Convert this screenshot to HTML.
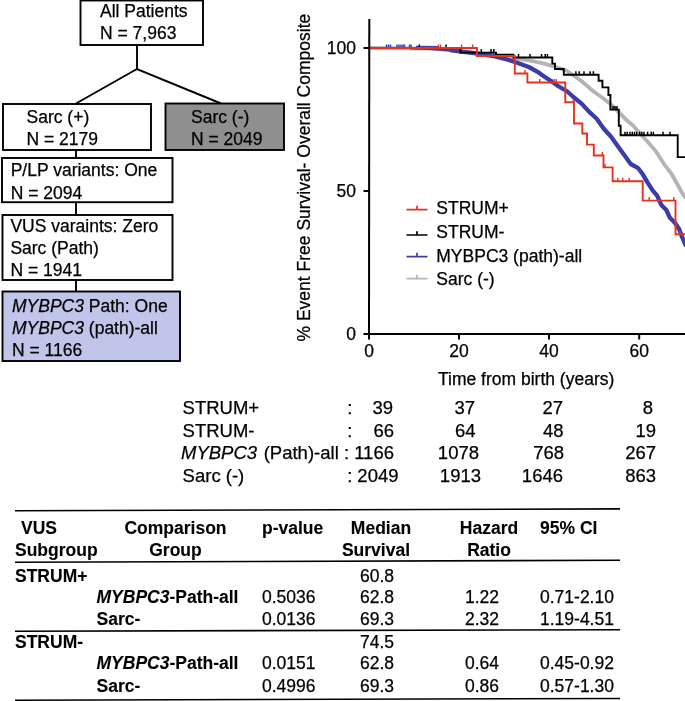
<!DOCTYPE html>
<html><head><meta charset="utf-8"><title>Figure</title>
<style>
html,body{margin:0;padding:0;background:#fff;}
svg{display:block;}
text{font-family:"Liberation Sans",Arial,Helvetica,sans-serif;fill:#000;}
.t{font-size:17.5px;stroke:#000;stroke-width:0.25px;}
.b{font-weight:bold;stroke-width:0.1px;}
.i{font-style:italic;}
</style></head><body>
<svg width="685" height="701" viewBox="0 0 685 701">
<rect width="685" height="701" fill="#fff"/>
<!-- flow chart -->
<g stroke="#000" stroke-width="1.9" fill="none">
<rect x="80.5" y="0.5" width="122.5" height="44.5" fill="#fff"/>
<line x1="137" y1="45" x2="137" y2="69"/>
<polyline points="76,103.5 137,69 221,103.5"/>
<rect x="3" y="104" width="148" height="46" fill="#fff"/>
<rect x="165.5" y="103.5" width="118.5" height="46.5" fill="#8f8f8f"/>
<line x1="76" y1="150" x2="76" y2="158"/>
<rect x="2" y="158" width="170.5" height="44.2" fill="#fff"/>
<line x1="76" y1="202" x2="76" y2="215"/>
<rect x="2.5" y="215" width="170" height="65" fill="#fff"/>
<line x1="76" y1="280" x2="76" y2="291"/>
<rect x="2.5" y="291.5" width="177.5" height="69.5" fill="#c1c5ea"/>
</g>
<g class="t">
<text x="100" y="17.4">All Patients</text>
<text x="100" y="39.4">N = 7,963</text>
<text x="26.5" y="122.5">Sarc (+)</text>
<text x="26.5" y="144.5">N = 2179</text>
<text x="191" y="122.5">Sarc (-)</text>
<text x="191" y="144.5">N = 2049</text>
<text x="10.7" y="176.2">P/LP variants: One</text>
<text x="10.7" y="198.5">N = 2094</text>
<text x="10.4" y="232">VUS varaints: Zero</text>
<text x="10.4" y="254">Sarc (Path)</text>
<text x="10.4" y="276">N = 1941</text>
<text x="12" y="311.5"><tspan class="i">MYBPC3</tspan> Path: One</text>
<text x="12" y="333.5"><tspan class="i">MYBPC3</tspan> (path)-all</text>
<text x="12" y="356">N = 1166</text>
</g>
<!-- chart -->
<g fill="none" stroke-linejoin="round">
<polyline points="369.0,48.0 430.0,48.6 450.0,50.0 472.0,52.6 493.8,55.2 507.0,57.0 515.7,58.5 528.8,60.4 543.4,63.4 559.5,68.2 566.8,70.8 581.4,81.0 593.6,91.5 603.8,98.8 611.1,104.6 618.4,111.9 625.7,119.2 633.0,125.5 640.3,133.8 647.6,141.8 654.9,150.0 657.8,154.3 664.2,164.3 671.3,173.5 677.0,183.5 682.0,192.8 686.0,198.5" stroke="#b4b4b4" stroke-width="3.8"/>
<polyline points="369.0,48.0 410.0,48.3" stroke="#3c3ca8" stroke-width="1.6"/>
<polyline points="410.0,48.3 430.0,48.8 450.0,50.2" stroke="#3c3ca8" stroke-width="2.6"/>
<polyline points="450.0,50.2 472.0,52.8 493.8,56.1 507.0,59.5 515.7,62.3 528.8,67.0 537.6,71.8 543.4,76.0 551.0,81.0 558.0,86.0 567.3,91.5 574.6,98.0 581.9,103.9 589.2,111.9 596.5,118.5 603.8,128.7 611.1,136.7 618.4,146.9 625.7,157.0 630.7,164.0 637.8,167.8 642.8,174.3 647.8,182.8 652.8,190.7 657.1,195.6 661.3,204.9 666.3,209.9 669.9,217.8 674.9,222.8 679.2,229.2 682.0,237.0 684.2,242.0 686.0,246.0" stroke="#3c3ca8" stroke-width="4.3"/>
<line x1="386.5" y1="48" x2="386.5" y2="44.5" stroke="#3c3ca8" stroke-width="1.5"/><line x1="388.5" y1="48" x2="388.5" y2="44.5" stroke="#3c3ca8" stroke-width="1.5"/><line x1="390.5" y1="48" x2="390.5" y2="44.5" stroke="#3c3ca8" stroke-width="1.5"/><line x1="397" y1="48" x2="397" y2="44.5" stroke="#3c3ca8" stroke-width="1.5"/><line x1="399" y1="48" x2="399" y2="44.5" stroke="#3c3ca8" stroke-width="1.5"/><line x1="401" y1="48" x2="401" y2="44.5" stroke="#3c3ca8" stroke-width="1.5"/><line x1="403" y1="48" x2="403" y2="44.5" stroke="#3c3ca8" stroke-width="1.5"/><line x1="404.5" y1="48" x2="404.5" y2="44.5" stroke="#3c3ca8" stroke-width="1.5"/><line x1="409.5" y1="48" x2="409.5" y2="44.5" stroke="#3c3ca8" stroke-width="1.5"/><line x1="411" y1="48" x2="411" y2="44.5" stroke="#3c3ca8" stroke-width="1.5"/>
<line x1="416" y1="46.6" x2="438" y2="46.9" stroke="#3c3ca8" stroke-width="1.6"/>
<polyline points="369.0,48.0 460.5,48.0 460.5,52.6 496.0,52.6 496.0,54.8 513.5,54.8 513.5,57.5 552.3,57.5 552.3,63.6 555.0,63.6 555.0,69.0 563.8,69.0 563.8,74.7 598.6,74.7 598.6,80.8 602.4,80.8 602.4,87.4 608.4,87.4 608.4,95.0 610.4,95.0 610.4,109.6 618.8,109.6 618.8,125.7 620.6,125.7 620.6,135.2 677.7,135.2 677.7,157.1 686.0,157.1" stroke="#000" stroke-width="1.9" stroke-linejoin="miter"/>
<line x1="419.3" y1="48" x2="419.3" y2="44.5" stroke="#000" stroke-width="1.5"/><line x1="446" y1="48" x2="446" y2="44.5" stroke="#000" stroke-width="1.5"/><line x1="481.3" y1="52.6" x2="481.3" y2="49.1" stroke="#000" stroke-width="1.5"/><line x1="491" y1="52.6" x2="491" y2="49.1" stroke="#000" stroke-width="1.5"/><line x1="493.8" y1="52.6" x2="493.8" y2="49.1" stroke="#000" stroke-width="1.5"/><line x1="518.5" y1="57.5" x2="518.5" y2="54.0" stroke="#000" stroke-width="1.5"/><line x1="530" y1="57.5" x2="530" y2="54.0" stroke="#000" stroke-width="1.5"/><line x1="541.5" y1="57.5" x2="541.5" y2="54.0" stroke="#000" stroke-width="1.5"/><line x1="545.2" y1="57.5" x2="545.2" y2="54.0" stroke="#000" stroke-width="1.5"/><line x1="547.4" y1="57.5" x2="547.4" y2="54.0" stroke="#000" stroke-width="1.5"/><line x1="575.9" y1="74.7" x2="575.9" y2="71.2" stroke="#000" stroke-width="1.5"/><line x1="579.2" y1="74.7" x2="579.2" y2="71.2" stroke="#000" stroke-width="1.5"/><line x1="584" y1="74.7" x2="584" y2="71.2" stroke="#000" stroke-width="1.5"/><line x1="590.1" y1="74.7" x2="590.1" y2="71.2" stroke="#000" stroke-width="1.5"/><line x1="593.4" y1="74.7" x2="593.4" y2="71.2" stroke="#000" stroke-width="1.5"/><line x1="613" y1="109.6" x2="613" y2="106.1" stroke="#000" stroke-width="1.5"/><line x1="615" y1="109.6" x2="615" y2="106.1" stroke="#000" stroke-width="1.5"/><line x1="617" y1="109.6" x2="617" y2="106.1" stroke="#000" stroke-width="1.5"/><line x1="625" y1="135.2" x2="625" y2="131.7" stroke="#000" stroke-width="1.5"/><line x1="627.2" y1="135.2" x2="627.2" y2="131.7" stroke="#000" stroke-width="1.5"/><line x1="630" y1="135.2" x2="630" y2="131.7" stroke="#000" stroke-width="1.5"/><line x1="632.3" y1="135.2" x2="632.3" y2="131.7" stroke="#000" stroke-width="1.5"/><line x1="634.5" y1="135.2" x2="634.5" y2="131.7" stroke="#000" stroke-width="1.5"/><line x1="636.6" y1="135.2" x2="636.6" y2="131.7" stroke="#000" stroke-width="1.5"/><line x1="639.6" y1="135.2" x2="639.6" y2="131.7" stroke="#000" stroke-width="1.5"/><line x1="641.8" y1="135.2" x2="641.8" y2="131.7" stroke="#000" stroke-width="1.5"/><line x1="644" y1="135.2" x2="644" y2="131.7" stroke="#000" stroke-width="1.5"/><line x1="647.6" y1="135.2" x2="647.6" y2="131.7" stroke="#000" stroke-width="1.5"/><line x1="651.2" y1="135.2" x2="651.2" y2="131.7" stroke="#000" stroke-width="1.5"/><line x1="653.4" y1="135.2" x2="653.4" y2="131.7" stroke="#000" stroke-width="1.5"/><line x1="663" y1="135.2" x2="663" y2="131.7" stroke="#000" stroke-width="1.5"/><line x1="670" y1="135.2" x2="670" y2="131.7" stroke="#000" stroke-width="1.5"/>
<polyline points="369.0,48.0 477.0,48.0 477.0,56.0 514.8,56.0 514.8,73.5 527.4,73.5 527.4,82.5 565.3,82.5 565.3,102.3 574.0,102.3 574.0,123.5 582.3,123.5 582.3,133.5 587.0,133.5 587.0,144.6 593.8,144.6 593.8,155.5 603.5,155.5 603.5,167.4 612.6,167.4 612.6,181.2 642.7,181.2 642.7,200.6 675.5,200.6 675.5,234.2 686.0,234.2" stroke="#e8321e" stroke-width="1.9" stroke-linejoin="miter"/>
<line x1="438.5" y1="48" x2="438.5" y2="44.5" stroke="#e8321e" stroke-width="1.4"/><line x1="440.5" y1="48" x2="440.5" y2="44.5" stroke="#e8321e" stroke-width="1.4"/><line x1="461.6" y1="48" x2="461.6" y2="44.5" stroke="#e8321e" stroke-width="1.4"/><line x1="472.7" y1="48" x2="472.7" y2="44.5" stroke="#e8321e" stroke-width="1.4"/><line x1="525" y1="73.5" x2="525" y2="70.0" stroke="#e8321e" stroke-width="1.4"/><line x1="539.7" y1="82.5" x2="539.7" y2="79.0" stroke="#e8321e" stroke-width="1.4"/><line x1="554" y1="82.5" x2="554" y2="79.0" stroke="#e8321e" stroke-width="1.4"/><line x1="556.2" y1="82.5" x2="556.2" y2="79.0" stroke="#e8321e" stroke-width="1.4"/><line x1="573.4" y1="102.3" x2="573.4" y2="98.8" stroke="#e8321e" stroke-width="1.4"/><line x1="602.3" y1="155.5" x2="602.3" y2="152.0" stroke="#e8321e" stroke-width="1.4"/><line x1="605" y1="167.4" x2="605" y2="163.9" stroke="#e8321e" stroke-width="1.4"/><line x1="617.8" y1="181.2" x2="617.8" y2="177.7" stroke="#e8321e" stroke-width="1.4"/><line x1="622.8" y1="181.2" x2="622.8" y2="177.7" stroke="#e8321e" stroke-width="1.4"/><line x1="629.2" y1="181.2" x2="629.2" y2="177.7" stroke="#e8321e" stroke-width="1.4"/><line x1="649.2" y1="200.6" x2="649.2" y2="197.1" stroke="#e8321e" stroke-width="1.4"/><line x1="673.8" y1="200.6" x2="673.8" y2="197.1" stroke="#e8321e" stroke-width="1.4"/><line x1="679.9" y1="234.2" x2="679.9" y2="230.7" stroke="#e8321e" stroke-width="1.4"/>
</g>
<g stroke="#000" stroke-width="2" fill="none">
<line x1="369.3" y1="19" x2="369" y2="334.7"/>
<line x1="363.5" y1="334" x2="685" y2="334"/>
<line x1="363.5" y1="48" x2="369" y2="48"/>
<line x1="363.5" y1="191" x2="369" y2="191"/>
<line x1="369" y1="334" x2="369" y2="339.5"/>
<line x1="459" y1="334" x2="459" y2="339.5"/>
<line x1="549" y1="334" x2="549" y2="339.5"/>
<line x1="639.2" y1="334" x2="639.2" y2="339.5"/>
</g>
<g class="t">
<text x="356" y="53.7" text-anchor="end">100</text>
<text x="356" y="197" text-anchor="end">50</text>
<text x="356" y="340" text-anchor="end">0</text>
<text x="369" y="357" text-anchor="middle">0</text>
<text x="459" y="357" text-anchor="middle">20</text>
<text x="549" y="357" text-anchor="middle">40</text>
<text x="639.2" y="357" text-anchor="middle">60</text>
<text x="438" y="385">Time from birth (years)</text>
<text transform="translate(309.5,341.5) rotate(-90)">% Event Free Survival- Overall Composite</text>
</g>
<!-- legend -->
<g stroke-width="1.7" fill="none">
<path d="M406.5 209.6H427.5M417 209.6v-3.8" stroke="#e8321e"/>
<path d="M406.5 235H427.5M417 235v-3.8" stroke="#000"/>
<path d="M406.5 256.6H427.5M417 256.6v-3.8" stroke="#3c3ca8"/>
<path d="M406.5 278.6H427.5M417 278.6v-3.8" stroke="#b4b4b4"/>
</g>
<g class="t">
<text x="436.3" y="214">STRUM+</text>
<text x="436.3" y="238">STRUM-</text>
<text x="436.3" y="261.5">MYBPC3 (path)-all</text>
<text x="436.3" y="285">Sarc (-)</text>
</g>
<!-- risk table -->
<g class="t" style="font-size:18.5px">
<text x="182.6" y="414">STRUM+</text>
<text x="182.6" y="436.6">STRUM-</text>
<text x="181" y="458.5"><tspan class="i">MYBPC3</tspan><tspan x="263.7">(Path)-all</tspan></text>
<text x="182.6" y="481.5">Sarc (-)</text>
<text x="347.2" y="413.5">:</text>
<text x="347.2" y="436.6">:</text>
<text x="344" y="458.5">:</text>
<text x="347.2" y="481.5">:</text>
<g text-anchor="end">
<text x="393" y="413.5">39</text><text x="475" y="413.5">37</text><text x="563" y="413.5">27</text><text x="653" y="413.5">8</text>
<text x="394" y="436.6">66</text><text x="475.5" y="436.6">64</text><text x="563.5" y="436.6">48</text><text x="656" y="436.6">19</text>
<text x="394" y="458.5">1166</text><text x="479" y="458.5">1078</text><text x="564" y="458.5">768</text><text x="656" y="458.5">267</text>
<text x="398.5" y="481.5">2049</text><text x="481" y="481.5">1913</text><text x="563" y="481.5">1646</text><text x="656" y="481.5">863</text>
</g>
</g>
<!-- stats table -->
<g stroke="#000" stroke-width="1.6">
<line x1="15" y1="510.7" x2="620" y2="508.9"/>
<line x1="15" y1="562.2" x2="620" y2="560.3"/>
<line x1="15" y1="631.2" x2="620" y2="629.7"/>
<line x1="15" y1="700.2" x2="620" y2="698.5"/>
</g>
<g class="t b">
<text x="21" y="534">VUS</text>
<text x="15" y="556">Subgroup</text>
<text x="175.5" y="534" text-anchor="middle">Comparison</text>
<text x="175.5" y="556" text-anchor="middle">Group</text>
<text x="262" y="534">p-value</text>
<text x="381" y="534" text-anchor="middle">Median</text>
<text x="376" y="556" text-anchor="middle">Survival</text>
<text x="489" y="534" text-anchor="middle">Hazard</text>
<text x="489" y="556" text-anchor="middle">Ratio</text>
<text x="540" y="534">95% CI</text>
<text x="15" y="582">STRUM+</text>
<text x="96.5" y="602.5"><tspan class="i">MYBPC3</tspan>-Path-all</text>
<text x="96.5" y="624.7">Sarc-</text>
<text x="15" y="647.5">STRUM-</text>
<text x="96.5" y="669"><tspan class="i">MYBPC3</tspan>-Path-all</text>
<text x="96.5" y="691.5">Sarc-</text>
</g>
<g class="t">
<text x="262" y="602.5">0.5036</text>
<text x="262" y="624.7">0.0136</text>
<text x="262" y="669">0.0151</text>
<text x="262" y="691.5">0.4996</text>
<text x="360" y="582">60.8</text>
<text x="360" y="602.5">62.8</text>
<text x="360" y="624.7">69.3</text>
<text x="360" y="647.5">74.5</text>
<text x="360" y="669">62.8</text>
<text x="360" y="691.5">69.3</text>
<text x="465" y="602.5">1.22</text>
<text x="465" y="624.7">2.32</text>
<text x="465" y="669">0.64</text>
<text x="465" y="691.5">0.86</text>
<text x="540" y="602.5">0.71-2.10</text>
<text x="540" y="624.7">1.19-4.51</text>
<text x="540" y="669">0.45-0.92</text>
<text x="540" y="691.5">0.57-1.30</text>
</g>
</svg>
</body></html>
